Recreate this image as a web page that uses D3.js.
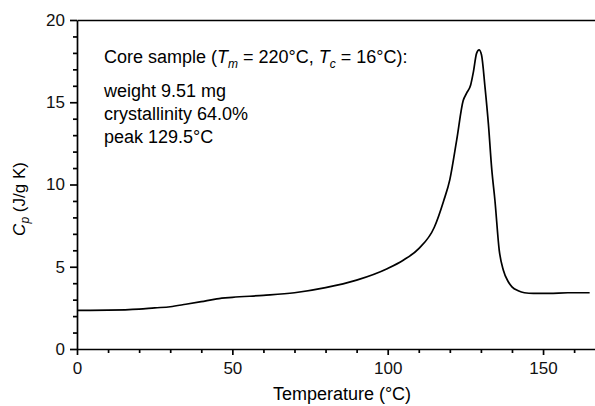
<!DOCTYPE html>
<html>
<head>
<meta charset="utf-8">
<script src="https://cdn.jsdelivr.net/npm/d3@7"></script>
<style>
  html, body { margin: 0; padding: 0; background: #fff; }
  svg { display: block; font-family: "Liberation Sans", Arial, sans-serif; }
  .axis path, .axis line { stroke: #000; stroke-width: 1.7; }
  .axis text { font-size: 17px; fill: #111; }
</style>
</head>
<body>
<svg id="chart" width="595" height="406"></svg>
<script>
// Cp curve (T in °C, Cp in J/g K)
const temps = [0, 10, 20, 25, 30, 35, 40, 45, 50, 60, 70, 80, 90, 100, 105, 110, 115, 118,
  120, 122.2, 124.3, 125.4, 126.7, 127.6, 128.6, 129.4, 130.2, 131.3, 132.4, 133.5,
  134.5, 135.9, 137.2, 138.8, 140, 142, 144, 146.9, 152, 158, 165];
const cpValues = [2.35, 2.36, 2.42, 2.5, 2.57, 2.72, 2.88, 3.05, 3.14, 3.26, 3.42, 3.73, 4.19, 4.9, 5.4, 6.1, 7.4, 9.0,
  10.3, 12.7, 15.1, 15.55, 16.05, 16.86, 17.97, 18.18, 17.87, 15.95, 13.7, 10.9,
  9.06, 6.0, 4.8, 4.09, 3.78, 3.54, 3.42, 3.38, 3.38, 3.42, 3.42];

const xMajor = [0, 50, 100, 150];
const xMinor = [10, 20, 30, 40, 60, 70, 80, 90, 110, 120, 130, 140, 160];
const yMajor = [0, 5, 10, 15, 20];
const yMinor = d3.range(0, 21).filter(v => v % 5 !== 0);

const infoLines = ["weight 9.51 mg", "crystallinity 64.0%", "peak 129.5°C"];

const svg = d3.select("#chart");
const mLeft = 77, mRight = 595, mTop = 20, mBottom = 349;

// x axis cut at the right edge of the picture
const x = d3.scaleLinear().domain([0, (mRight - mLeft) / 3.107]).range([mLeft, mRight]);
const y = d3.scaleLinear().domain([0, 20]).range([mBottom, mTop]);

// minor ticks
svg.append("g").attr("class", "axis")
  .attr("transform", `translate(0,${mBottom})`)
  .call(d3.axisBottom(x).tickValues(xMinor).tickSize(4).tickFormat(""))
  .call(g => g.select(".domain").remove());
svg.append("g").attr("class", "axis")
  .attr("transform", `translate(${mLeft},0)`)
  .call(d3.axisLeft(y).tickValues(yMinor).tickSize(4).tickFormat(""))
  .call(g => g.select(".domain").remove());

// major ticks + labels
svg.append("g").attr("class", "axis")
  .attr("transform", `translate(0,${mBottom})`)
  .call(d3.axisBottom(x).tickValues(xMajor).tickSize(6).tickPadding(7).tickSizeOuter(0))
  .selectAll("text").attr("dy", "0.71em");
svg.append("g").attr("class", "axis")
  .attr("transform", `translate(${mLeft},0)`)
  .call(d3.axisLeft(y).tickValues(yMajor).tickSize(7).tickPadding(5).tickSizeOuter(0));

// top frame line
svg.append("g").attr("class", "axis")
  .attr("transform", `translate(0,${mTop})`)
  .call(d3.axisTop(x).tickValues([]).tickSizeOuter(0));

// curve
const line = d3.line()
  .x((d, i) => x(temps[i]))
  .y(d => y(d))
  .curve(d3.curveMonotoneX);
svg.append("path")
  .datum(cpValues)
  .attr("d", line)
  .attr("fill", "none")
  .attr("stroke", "#000")
  .attr("stroke-width", 1.7)
  .attr("stroke-linejoin", "round");

// axis titles
svg.append("text")
  .attr("x", 342).attr("y", 400)
  .attr("text-anchor", "middle")
  .style("font-size", "18px")
  .text("Temperature (°C)");

const yl = svg.append("text")
  .attr("transform", "translate(25,199) rotate(-90)")
  .attr("text-anchor", "middle")
  .style("font-size", "17px");
yl.append("tspan").style("font-style", "italic").text("C");
yl.append("tspan").style("font-style", "italic").style("font-size", "12px").attr("dy", 4).text("p");
yl.append("tspan").attr("dy", -4).text(" (J/g K)");

// annotation
const ann = svg.append("text").attr("x", 104).attr("y", 63).style("font-size", "18px");
ann.append("tspan").text("Core sample (");
ann.append("tspan").style("font-style", "italic").text("T");
ann.append("tspan").style("font-style", "italic").style("font-size", "12px").attr("dy", 5).text("m");
ann.append("tspan").attr("dy", -5).text(" = 220°C, ");
ann.append("tspan").style("font-style", "italic").text("T");
ann.append("tspan").style("font-style", "italic").style("font-size", "12px").attr("dy", 5).text("c");
ann.append("tspan").attr("dy", -5).text(" = 16°C):");

svg.selectAll(".info")
  .data(infoLines)
  .enter().append("text")
  .attr("class", "info")
  .attr("x", 104)
  .attr("y", (d, i) => 97 + i * 23)
  .style("font-size", "18px")
  .text(d => d);
</script>
</body>
</html>
